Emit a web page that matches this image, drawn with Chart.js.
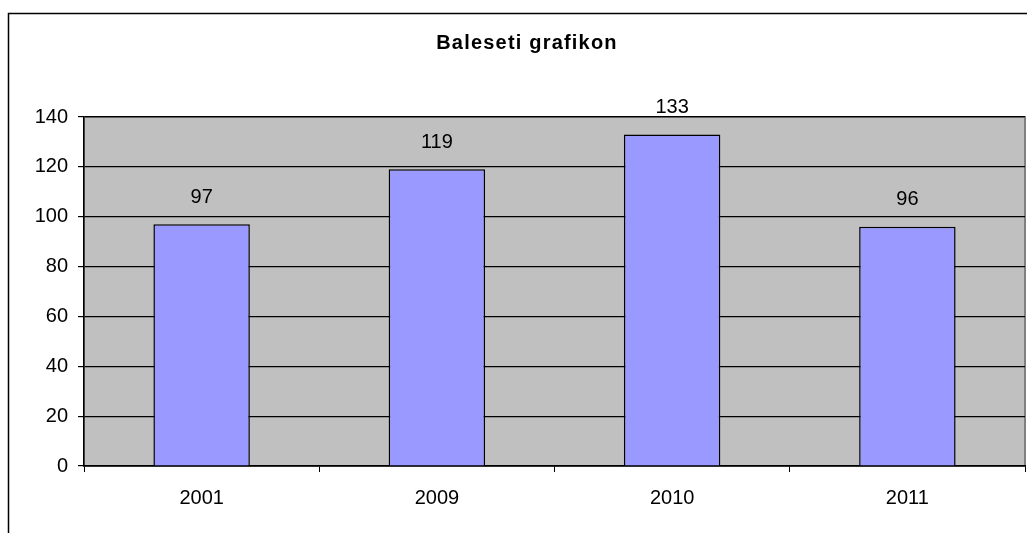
<!DOCTYPE html>
<html>
<head>
<meta charset="utf-8">
<script src="https://cdn.jsdelivr.net/npm/chart.js@4/dist/chart.umd.min.js"></script>
<style>
  html, body { margin: 0; padding: 0; background: #fff; }
  #wrap { width: 1027px; height: 533px; }
</style>
</head>
<body>
<div id="wrap"><canvas id="chart"></canvas></div>
<script>
const years = ['2001', '2009', '2010', '2011'];
const accidents = [97, 119, 133, 96];
const titleText = 'Baleseti grafikon';

// frame, gray plot area, title
const backdrop = {
    id: 'backdrop',
    beforeDraw(chart) {
        const ctx = chart.ctx;
        const a = chart.chartArea;
        ctx.save();
        ctx.fillStyle = '#fff';
        ctx.fillRect(0, 0, chart.width, chart.height);
        ctx.strokeStyle = '#000';
        ctx.lineWidth = 1.5;
        ctx.beginPath();
        ctx.moveTo(8.5, chart.height);
        ctx.lineTo(8.5, 13.5);
        ctx.lineTo(chart.width, 13.5);
        ctx.stroke();
        ctx.fillStyle = '#C0C0C0';
        ctx.fillRect(a.left, a.top, a.right - a.left, a.bottom - a.top);
        ctx.strokeStyle = '#808080';
        ctx.lineWidth = 2;
        ctx.strokeRect(a.left, a.top, a.right - a.left, a.bottom - a.top);
        ctx.fillStyle = '#000';
        ctx.font = 'bold 20px Arial, "Liberation Sans", sans-serif';
        ctx.textAlign = 'center';
        ctx.textBaseline = 'middle';
        if ('letterSpacing' in ctx) ctx.letterSpacing = '1.2px';
        ctx.fillText(titleText, 527, 43);
        ctx.restore();
    }
};

// value above each bar
const valueLabels = {
    id: 'valueLabels',
    afterDatasetsDraw(chart) {
        const ctx = chart.ctx;
        const meta = chart.getDatasetMeta(0);
        ctx.save();
        ctx.fillStyle = '#000';
        ctx.font = '20px Arial, "Liberation Sans", sans-serif';
        ctx.textAlign = 'center';
        ctx.textBaseline = 'middle';
        meta.data.forEach((bar, i) => {
            ctx.fillText(String(accidents[i]), bar.x, bar.y - 27);
        });
        ctx.restore();
    }
};

new Chart(document.getElementById('chart'), {
    type: 'bar',
    data: {
        labels: years,
        datasets: [{
            data: accidents,
            backgroundColor: '#9999FF',
            borderColor: '#000',
            borderWidth: 1.5,
            barPercentage: 0.41,
            categoryPercentage: 1
        }]
    },
    options: {
        responsive: true,
        maintainAspectRatio: false,
        animation: false,
        layout: { padding: { left: 0, right: 2, top: 117, bottom: 0 } },
        plugins: {
            legend: { display: false },
            tooltip: { enabled: false },
            title: { display: false }
        },
        scales: {
            x: {
                afterFit(scale) { scale.height = 67; },
                grid: {
                    offset: true,
                    drawOnChartArea: false,
                    drawTicks: true,
                    tickLength: 6,
                    color: '#000'
                },
                border: { color: '#000', width: 1.5 },
                ticks: {
                    color: '#000',
                    padding: 14,
                    font: { family: 'Arial, "Liberation Sans", sans-serif', size: 20 }
                }
            },
            y: {
                min: 0,
                max: 140,
                afterFit(scale) { scale.width = 84; },
                grid: {
                    color: '#000',
                    lineWidth: 1.2,
                    tickLength: 6
                },
                border: { color: '#000', width: 1.5 },
                ticks: {
                    stepSize: 20,
                    color: '#000',
                    padding: 10,
                    font: { family: 'Arial, "Liberation Sans", sans-serif', size: 20 }
                }
            }
        }
    },
    plugins: [backdrop, valueLabels]
});
</script>
</body>
</html>
